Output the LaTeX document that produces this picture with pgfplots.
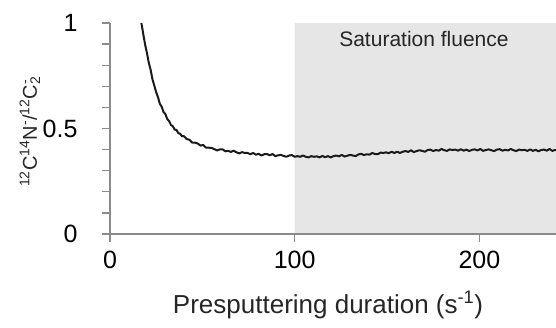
\documentclass[border=0pt]{standalone}
\usepackage{fontspec}
\setmainfont{Liberation Sans}
\usepackage{pgfplots}
\pgfplotsset{compat=1.18}
\definecolor{axgray}{HTML}{8A8A8A}
\definecolor{shade}{HTML}{E6E6E6}
\definecolor{curve}{HTML}{1A1A1A}
\begin{document}
\begin{tikzpicture}
\begin{axis}[
  scale only axis, width=446pt, height=211pt,
  xmin=0, xmax=241.5, ymin=0, ymax=1,
  axis x line*=bottom, axis y line*=left,
  axis line style={axgray, line width=1.3pt, -},
  tick style={axgray, line width=1.3pt},
  tick align=outside,
  major tick length=8pt, minor tick length=8pt,
  xtick={0,100,200},
  ytick={0,0.5,1},
  minor ytick={0.1,0.2,0.3,0.4,0.6,0.7,0.8,0.9},
  /pgf/number format/assume math mode=true,
  ticklabel style={font=\fontsize{25}{30}\selectfont, text=black},
  yticklabel style={xshift=-21pt},
  xticklabel style={yshift=-6pt},
  axis on top,
  clip=true,
]
\addplot[fill=shade, draw=none] coordinates {(100,0) (100,1) (241.5,1) (241.5,0)} \closedcycle;
\addplot[curve, line width=2pt, line join=round] table {
x y
16.5 1.05
17 1.000
18 0.948
19 0.898
20 0.858
21 0.812
22 0.778
23 0.733
24 0.703
25 0.672
26 0.648
27 0.617
28 0.603
29 0.578
30 0.568
31 0.545
32 0.535
33 0.517
34 0.511
35 0.495
36 0.493
37 0.478
38 0.475
39 0.463
40 0.464
41.5 0.450
43 0.447
44.5 0.433
46 0.433
47.5 0.429
49 0.419
50.5 0.422
52 0.409
53.5 0.409
55 0.408
56.5 0.402
58 0.396
59.5 0.401
61 0.401
62.5 0.392
64 0.394
65.5 0.389
67 0.395
68.5 0.387
70 0.382
71.5 0.388
73 0.384
74.5 0.384
76 0.378
77.5 0.384
79 0.376
80.5 0.380
82 0.372
83.5 0.378
85 0.379
86.5 0.373
88 0.379
89.5 0.369
91 0.373
92.5 0.375
94 0.370
95.5 0.366
97 0.372
98.5 0.374
100 0.366
101.5 0.369
103 0.366
104.5 0.372
106 0.366
107.5 0.363
109 0.369
110.5 0.366
112 0.368
113.5 0.363
115 0.370
116.5 0.364
118 0.369
119.5 0.363
121 0.369
122.5 0.372
124 0.368
125.5 0.375
127 0.367
128.5 0.371
130 0.375
131.5 0.372
133 0.369
134.5 0.377
136 0.380
137.5 0.374
139 0.378
140.5 0.376
142 0.384
143.5 0.379
145 0.378
146.5 0.386
148 0.384
149.5 0.387
151 0.383
152.5 0.390
154 0.384
155.5 0.390
157 0.384
158.5 0.390
160 0.393
161.5 0.389
163 0.397
164.5 0.388
166 0.393
167.5 0.397
169 0.394
170.5 0.390
172 0.398
173.5 0.400
175 0.393
176.5 0.398
178 0.395
179.5 0.403
181 0.397
182.5 0.394
184 0.401
185.5 0.398
187 0.400
188.5 0.395
190 0.402
191.5 0.395
193 0.400
194.5 0.393
196 0.399
197.5 0.401
199 0.396
200.5 0.403
202 0.394
203.5 0.398
205 0.401
206.5 0.397
208 0.393
209.5 0.400
211 0.402
212.5 0.395
214 0.399
215.5 0.396
217 0.403
218.5 0.397
220 0.393
221.5 0.400
223 0.397
224.5 0.399
226 0.394
227.5 0.401
229 0.394
230.5 0.399
232 0.392
233.5 0.398
235 0.400
236.5 0.395
238 0.403
239.5 0.394
241 0.398
242 0.398
};
\node[anchor=base, font=\fontsize{21}{25}\selectfont, text=black!85] at (axis cs:170,0.8877) {Saturation fluence};
\end{axis}
\node[anchor=base, font=\fontsize{26}{30}\selectfont, text=black!85] at (218pt,-79pt) {Presputtering duration (s\textsuperscript{-1})};
\node[anchor=base, rotate=90, font=\fontsize{20}{24}\selectfont, text=black!85] at (-73pt,105pt) {\textsuperscript{12}C\textsuperscript{14}N\textsuperscript{-}/\textsuperscript{12}C\rlap{\textsuperscript{-}}\textsubscript{2}\hphantom{\textsuperscript{-}}};
\pgfresetboundingbox
\path (-110pt,-93pt) rectangle (446pt,234pt);
\end{tikzpicture}
\end{document}
